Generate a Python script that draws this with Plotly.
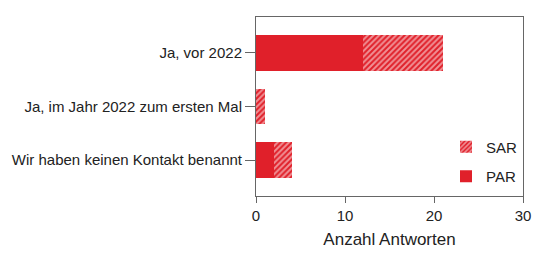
import plotly.graph_objects as go

categories = ["Ja, vor 2022", "Ja, im Jahr 2022 zum ersten Mal", "Wir haben keinen Kontakt benannt"]
par_values = [12, 0, 2]
sar_values = [9, 1, 2]
x_ticks = [0, 10, 20, 30]

RED = "#E0202A"

fig = go.Figure()
fig.add_trace(go.Bar(
    y=categories, x=par_values, orientation="h", name="PAR", legendgroup="par", legendrank=2,
    marker=dict(color=RED, line=dict(width=0)), width=0.67,
))
fig.add_trace(go.Bar(
    y=categories, x=sar_values, orientation="h", name="SAR", legendgroup="sar", legendrank=1,
    marker=dict(color=RED, line=dict(width=0),
                pattern=dict(shape="/", fgcolor="white", bgcolor=RED, size=4, solidity=0.5)),
    width=0.67,
))

fig.update_layout(
    barmode="stack",
    width=540, height=262,
    margin=dict(l=256, r=17, t=17, b=66),
    plot_bgcolor="white", paper_bgcolor="white",
    font=dict(family="Liberation Sans, Arial, sans-serif", size=15, color="#222"),
    showlegend=True,
    legend=dict(x=1.0, y=0.02, xanchor="right", yanchor="bottom",
                traceorder="grouped", bgcolor="rgba(0,0,0,0)",
                font=dict(size=15), itemwidth=30, tracegroupgap=7),
    xaxis=dict(range=[0, 30], tickvals=x_ticks, showgrid=False, zeroline=False,
               showline=True, linecolor="#666", linewidth=1, mirror=True,
               ticks="outside", ticklen=6, tickcolor="#666", automargin=False,
               title=dict(text="Anzahl Antworten", font=dict(size=17), standoff=10)),
    yaxis=dict(range=[2.67, -0.67], showgrid=False, zeroline=False,
               showline=True, linecolor="#666", linewidth=1, mirror=True,
               ticks="outside", ticklen=10, tickcolor="#666", ticklabelstandoff=0,
               automargin=False),
)

fig.write_html("out.html")
